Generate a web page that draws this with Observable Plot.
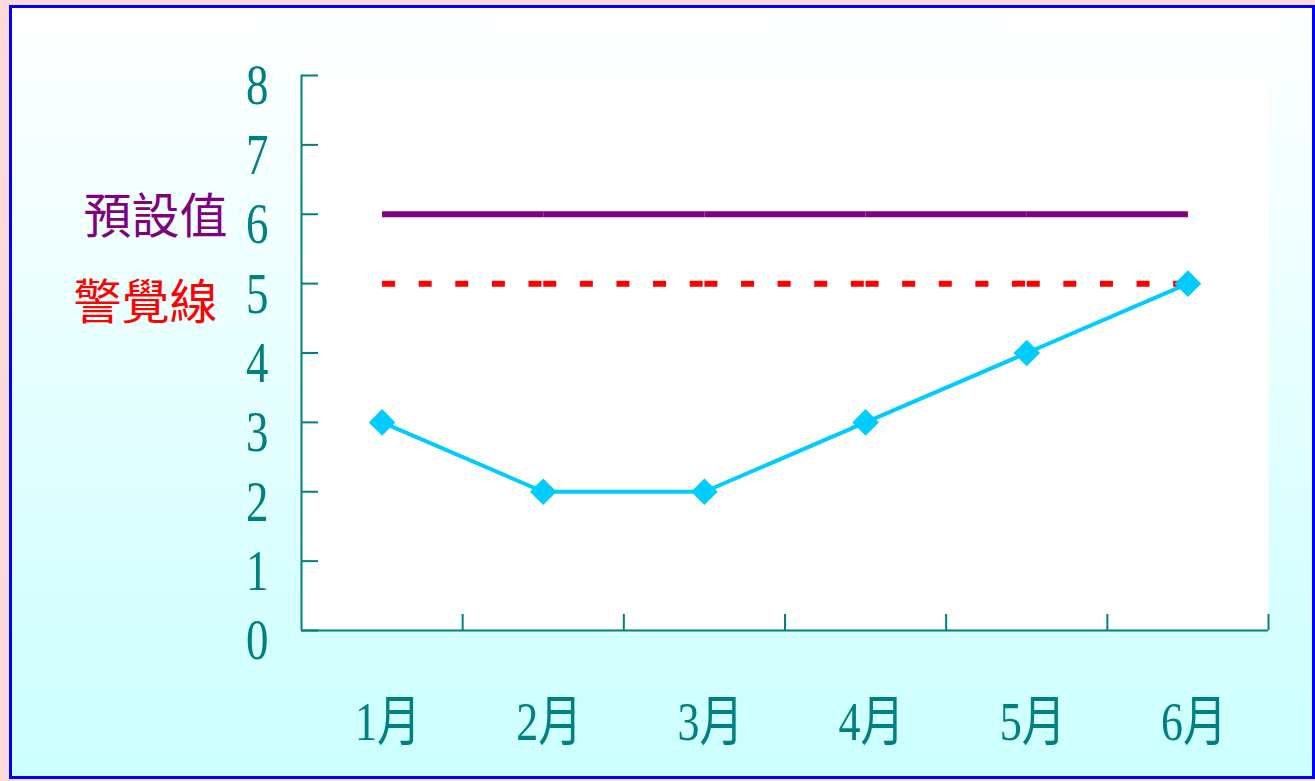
<!DOCTYPE html>
<html>
<head>
<meta charset="utf-8">
<script src="https://cdn.jsdelivr.net/npm/d3@7"></script>
<script src="https://cdn.jsdelivr.net/npm/@observablehq/plot@0.6"></script>
<style>
  html, body { margin: 0; padding: 0; background: #ffdcdc; width: 1315px; height: 781px; overflow: hidden; }
  #panel { position: absolute; left: 9px; top: 5px; width: 1300px; height: 768px;
           border: 3px solid #0000ff;
           background: linear-gradient(to bottom, #ffffff 0%, #ccffff 100%); }
  #chart { position: absolute; left: 0; top: 0; }
</style>
</head>
<body>
<div id="panel"></div>
<div id="chart"></div>
<script>
// Data
const months = ["1月", "2月", "3月", "4月", "5月", "6月"];
const values = [3, 2, 2, 3, 4, 5];
const presetValue = 6;      // 預設值
const warningValue = 5;     // 警覺線
const yTicks = [0, 1, 2, 3, 4, 5, 6, 7, 8];
const presetLabel = "預設值";
const warningLabel = "警覺線";

const idx = months.map((_, i) => i + 1);
const series = months.map((m, i) => ({x: i + 1, month: m, value: values[i]}));
const segs = idx.slice(0, -1).map((x, i) => ({x1: x, x2: idx[i + 1]}));
const boundaries = months.map((_, i) => i + 1.5);

const teal = "#008080";
const numFont = "'Liberation Serif', 'Noto Sans CJK TC', serif";

const plot = Plot.plot({
  width: 1315,
  height: 781,
  marginLeft: 301,
  marginRight: 47,
  marginTop: 75,
  marginBottom: 151,
  style: {background: "transparent", fontFamily: numFont, color: teal},
  x: {domain: [0.5, months.length + 0.5], axis: null, label: null},
  y: {domain: [0, 8], axis: null, label: null},
  marks: [
    Plot.frame({fill: "white", stroke: "none"}),
    // y-axis inward ticks
    Plot.axisY(yTicks, {anchor: "left", label: null, tickSize: 17, dx: 17, tickFormat: () => "", stroke: teal, strokeWidth: 2}),
    // y-axis labels
    Plot.axisY(yTicks, {anchor: "left", label: null, tickSize: 0, tickPadding: 33, dy: 11, fontSize: 56, fill: teal, tickFormat: d => String(d)}),
    // x-axis upward ticks between months
    Plot.axisX(boundaries, {anchor: "bottom", label: null, tickSize: 16, dy: -16, tickFormat: () => "", stroke: teal, strokeWidth: 2}),
    // x-axis labels
    Plot.axisX(idx, {anchor: "bottom", label: null, tickSize: 0, tickPadding: 70, dx: 6, fontSize: 55, fill: teal, tickFormat: d => months[d - 1]}),
    // axis lines
    Plot.ruleY([0], {stroke: teal, strokeWidth: 2}),
    Plot.ruleX([0.5], {stroke: teal, strokeWidth: 2}),
    // preset line
    Plot.link(segs, {x1: "x1", x2: "x2", y1: () => presetValue, y2: () => presetValue, stroke: "#800080", strokeWidth: 6}),
    // warning line (dashed, restarting each segment)
    Plot.link(segs, {x1: "x1", x2: "x2", y1: () => warningValue, y2: () => warningValue, stroke: "#ff0000", strokeWidth: 6, strokeDasharray: "13,23.6"}),
    // data line
    Plot.line(series, {x: "x", y: "value", stroke: "#00ccff", strokeWidth: 4}),
    Plot.dot(series, {x: "x", y: "value", symbol: "diamond2", r: 12, fill: "#00ccff", stroke: "none"}),
    // side labels
    Plot.text([presetLabel], {y: () => presetValue, frameAnchor: "left", textAnchor: "end", dx: -74, dy: 3, fontSize: 48, fill: "#800080", fontFamily: "'Noto Sans CJK TC', sans-serif"}),
    Plot.text([warningLabel], {y: () => warningValue, frameAnchor: "left", textAnchor: "end", dx: -84, dy: 20, fontSize: 48, fill: "#ff0000", fontFamily: "'Noto Sans CJK TC', sans-serif"})
  ]
});

// condense tick labels horizontally as in the reference
d3.select(plot).selectAll("g[aria-label='y-axis tick label'] text, g[aria-label='x-axis tick label'] text")
  .each(function() {
    const t = this.getAttribute("transform") || "";
    this.setAttribute("transform", t + " scale(0.8,1)");
  });

document.getElementById("chart").appendChild(plot);
</script>
</body>
</html>
